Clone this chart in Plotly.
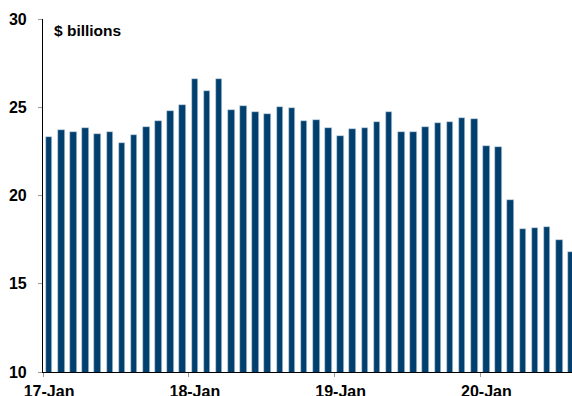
import plotly.graph_objects as go

months = ["Jan-17","Feb-17","Mar-17","Apr-17","May-17","Jun-17","Jul-17","Aug-17","Sep-17","Oct-17","Nov-17","Dec-17",
          "Jan-18","Feb-18","Mar-18","Apr-18","May-18","Jun-18","Jul-18","Aug-18","Sep-18","Oct-18","Nov-18","Dec-18",
          "Jan-19","Feb-19","Mar-19","Apr-19","May-19","Jun-19","Jul-19","Aug-19","Sep-19","Oct-19","Nov-19","Dec-19",
          "Jan-20","Feb-20","Mar-20","Apr-20","May-20","Jun-20","Jul-20","Aug-20"]
values = [23.30, 23.71, 23.62, 23.82, 23.48, 23.60, 22.97, 23.41, 23.88, 24.22, 24.79, 25.11,
          26.60, 25.92, 26.60, 24.84, 25.07, 24.73, 24.60, 25.00, 24.96, 24.24, 24.28, 23.82,
          23.37, 23.77, 23.84, 24.16, 24.73, 23.60, 23.60, 23.86, 24.12, 24.14, 24.37, 24.33,
          22.80, 22.77, 19.76, 18.10, 18.18, 18.20, 17.46, 16.78]
tick_labels = ["17-Jan", "18-Jan", "19-Jan", "20-Jan"]
y_ticks = [10, 15, 20, 25, 30]

x_idx = list(range(len(months)))
label_pos = [months.index(m) for m in ["Jan-17", "Jan-18", "Jan-19", "Jan-20"]]

fig = go.Figure(go.Bar(
    x=x_idx, y=values, width=0.54,
    marker=dict(color="#003f6e", line=dict(width=0.6, color="#c9d6e3")),
    hovertext=months,
))

font = dict(family="Liberation Sans, Arial, sans-serif", size=16, color="black")

fig.update_layout(
    width=572, height=396,
    margin=dict(l=43, r=0, t=19, b=24),
    plot_bgcolor="white", paper_bgcolor="white",
    showlegend=False,
    font=font,
    bargap=0,
    xaxis=dict(
        range=[-0.5, 43.05], automargin=False,
        tickvals=label_pos, ticktext=[f"<b>{t}</b>" for t in tick_labels],
        ticks="", showgrid=False, zeroline=False,
        showline=True, linecolor="black", linewidth=1.2,
        ticklabelstandoff=5,
        minor=dict(tick0=-0.5, dtick=12, ticks="outside", ticklen=4, tickcolor="#999999", showgrid=False),
    ),
    yaxis=dict(
        range=[10, 30], automargin=False,
        tickvals=y_ticks, ticktext=[f"<b>{v}</b>" for v in y_ticks],
        ticks="outside", ticklen=4, tickcolor="#999999",
        showgrid=False, zeroline=False,
        showline=True, linecolor="black", linewidth=1.2,
        ticklabelstandoff=8,
    ),
    annotations=[dict(
        text="<b>$ billions</b>", xref="paper", yref="paper", x=0.017, y=0.998,
        xanchor="left", yanchor="top", showarrow=False,
        font=dict(family="Liberation Sans, Arial, sans-serif", size=15.5, color="black"),
    )],
)

fig.write_html("out.html")
